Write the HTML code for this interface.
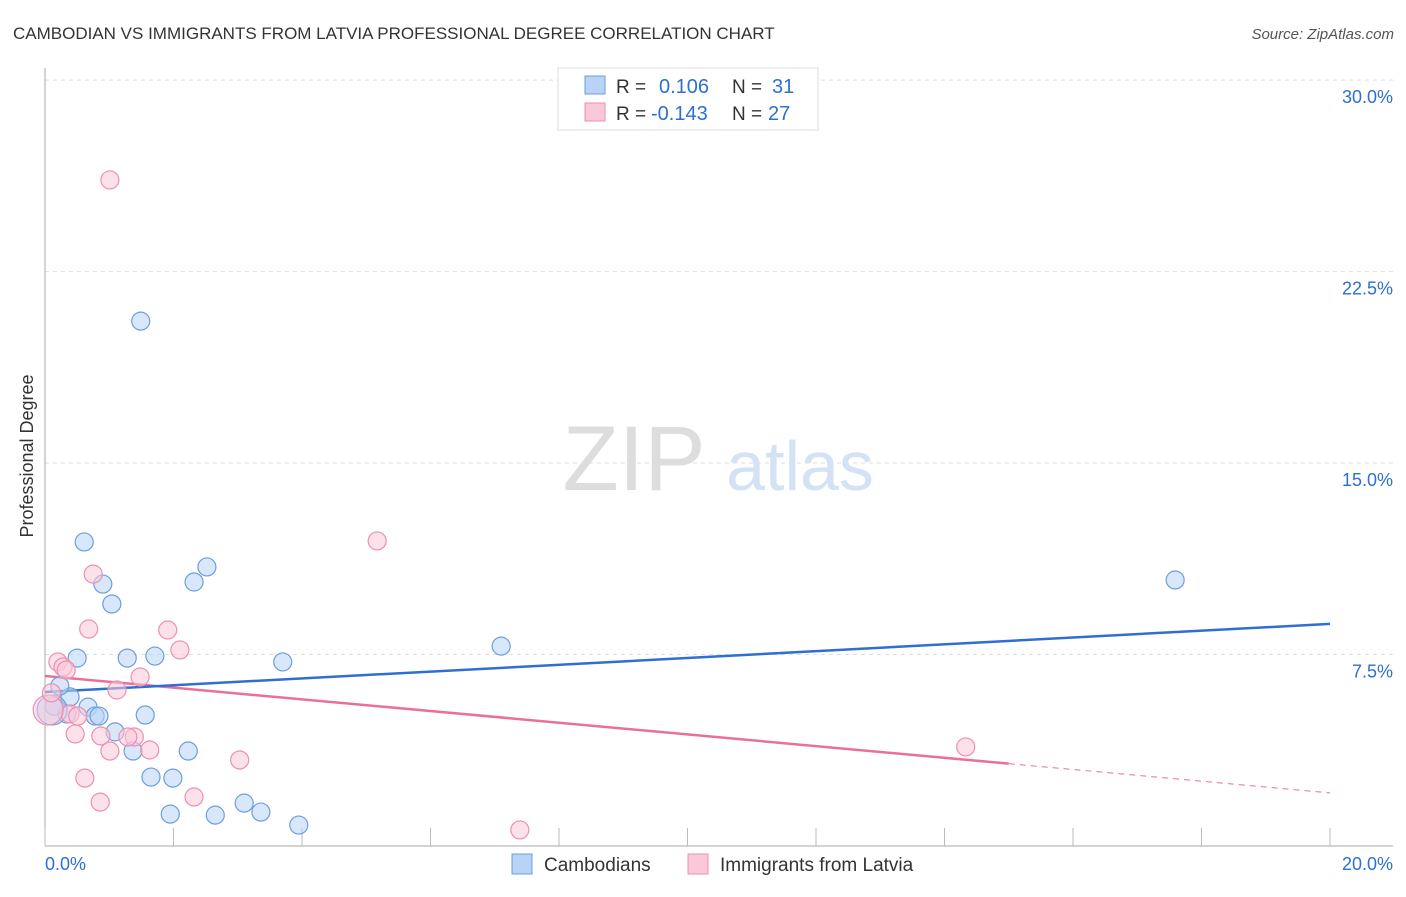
<!DOCTYPE html>
<html><head><meta charset="utf-8"><style>
body{margin:0;background:#fff;font-family:"Liberation Sans",sans-serif;}
svg text{font-family:"Liberation Sans",sans-serif;}
</style></head><body>
<svg width="1406" height="892" viewBox="0 0 1406 892" xmlns="http://www.w3.org/2000/svg">
<text x="13" y="39" font-size="17" fill="#333">CAMBODIAN VS IMMIGRANTS FROM LATVIA PROFESSIONAL DEGREE CORRELATION CHART</text>
<text x="1394" y="39" font-size="15" fill="#555" font-style="italic" text-anchor="end">Source: ZipAtlas.com</text>
<g>
<text x="634" y="490" font-size="92" fill="#ddd" font-family="Liberation Serif" text-anchor="middle">ZIP</text>
<text x="800" y="490" font-size="70" fill="#d3e2f5" text-anchor="middle">atlas</text>
</g>
<g id="grid"></g>
<g id="axes"></g>
<g id="lines"></g>
<g id="pts"></g>
<text transform="translate(33,456) rotate(-90)" font-size="18" fill="#333" text-anchor="middle">Professional Degree</text>
<g>
<rect x="558" y="68" width="260" height="62" fill="#fff" stroke="#ddd"/>
<rect x="585" y="76" width="20" height="18" fill="#b8d3f5" stroke="#6c9ee0"/>
<rect x="585" y="103" width="20" height="18" fill="#fbc8d8" stroke="#ec8fb0"/>
<text x="616" y="93" font-size="19" fill="#333">R = </text><text x="659" y="93" font-size="20" fill="#2d6fd3">0.106</text>
<text x="732" y="93" font-size="19" fill="#333">N = </text><text x="772" y="93" font-size="20" fill="#2d6fd3">31</text>
<text x="616" y="120" font-size="19" fill="#333">R = </text><text x="651" y="120" font-size="20" fill="#2d6fd3">-0.143</text>
<text x="732" y="120" font-size="19" fill="#333">N = </text><text x="768" y="120" font-size="20" fill="#2d6fd3">27</text>
</g>
<g>
<rect x="512" y="854" width="20" height="20" fill="#b8d3f5" stroke="#6c9ee0"/>
<text x="544" y="871" font-size="19" fill="#333">Cambodians</text>
<rect x="688" y="854" width="20" height="20" fill="#fbc8d8" stroke="#ec8fb0"/>
<text x="720" y="871" font-size="19" fill="#333">Immigrants from Latvia</text>
</g>
</svg>
<script>
const yTicks=[7.5,15,22.5,30];
const yTickLabels=["7.5%","15.0%","22.5%","30.0%"];
const xTickLabels=["0.0%","20.0%"];
const blueX=[1.49,0.61,0.90,1.04,2.52,2.32,7.10,17.59,0.50,1.28,1.71,3.70,0.39,0.23,0.67,0.78,0.34,0.14,0.11,1.56,1.09,1.37,2.23,1.65,1.99,3.10,3.36,1.95,2.65,3.95,0.84];
const blueY=[20.56,11.91,10.26,9.48,10.93,10.34,7.83,10.42,7.36,7.36,7.44,7.21,5.84,6.27,5.44,5.09,5.17,5.48,5.33,5.13,4.47,3.72,3.72,2.70,2.66,1.68,1.33,1.25,1.21,0.82,5.09];
const pinkX=[1.01,5.17,0.75,0.68,1.91,2.10,0.20,0.28,0.33,1.48,1.12,0.39,0.51,0.05,0.47,0.87,1.39,1.29,1.01,1.63,3.03,0.62,2.32,0.86,7.39,14.33,0.10];
const pinkY=[26.09,11.95,10.65,8.50,8.46,7.68,7.21,7.01,6.89,6.62,6.11,5.17,5.09,5.33,4.39,4.31,4.27,4.27,3.72,3.76,3.37,2.66,1.92,1.72,0.63,3.88,6.0];
const blueTrend=[6.03,8.70];
const pinkTrend=[6.66,2.08];
const pinkSolidEnd=15;
const X=v=>45+v/20*1285, Y=v=>846-v*25.53;
const NS="http://www.w3.org/2000/svg";
function mk(t,a,p){const e=document.createElementNS(NS,t);for(const k in a)e.setAttribute(k,a[k]);document.getElementById(p).appendChild(e);return e;}
yTicks.forEach((t,i)=>{
const g=mk('line',{x1:45,x2:1393,y1:Y(t),y2:Y(t),stroke:'#ddd','stroke-dasharray':'4,4'},'grid');


const l=mk('text',{x:1393,y:Y(t)+23,'font-size':18,fill:'#2d6fd3','text-anchor':'end'},'axes');l.textContent=yTickLabels[i];


});
mk('line',{x1:45,x2:45,y1:68,y2:846,stroke:'#aaa'},'axes');
mk('line',{x1:45,x2:1393,y1:846,y2:846,stroke:'#aaa'},'axes');
for(let i=0;i<=10;i++){const t=mk('line',{x1:X(i*2),x2:X(i*2),y1:846,y2:828,stroke:'#bbb'},'axes');

}
[[0,'start',45],[20,'end',1393]].forEach((d,i)=>{const l=mk('text',{x:d[2],y:870,'font-size':18,fill:'#2d6fd3','text-anchor':d[1]},'axes');l.textContent=xTickLabels[i];

});
function pts(xs,ys,fill,stroke,big){xs.forEach((x,i)=>{const c=mk('circle',{cx:X(x),cy:Y(ys[i]),r:i===big?15:9,fill:fill,'fill-opacity':0.55,stroke:stroke,'stroke-width':1.2},'pts');

});}
pts(blueX,blueY,'#b8d3f5','#6c9ee0',18);
pts(pinkX,pinkY,'#fbc8d8','#ec8fb0',13);
const pe=pinkTrend[0]+(pinkTrend[1]-pinkTrend[0])*pinkSolidEnd/20;
let a=mk('line',{x1:X(0),y1:Y(pinkTrend[0]),x2:X(pinkSolidEnd),y2:Y(pe),stroke:'#e8709a','stroke-width':2.5},'lines');

a=mk('line',{x1:X(pinkSolidEnd),y1:Y(pe),x2:X(20),y2:Y(pinkTrend[1]),stroke:'#e8709a','stroke-width':1,'stroke-dasharray':'6,5'},'lines');

a=mk('line',{x1:X(0),y1:Y(blueTrend[0]),x2:X(20),y2:Y(blueTrend[1]),stroke:'#2d6fd3','stroke-width':2.5},'lines');

</script>
</body></html>
